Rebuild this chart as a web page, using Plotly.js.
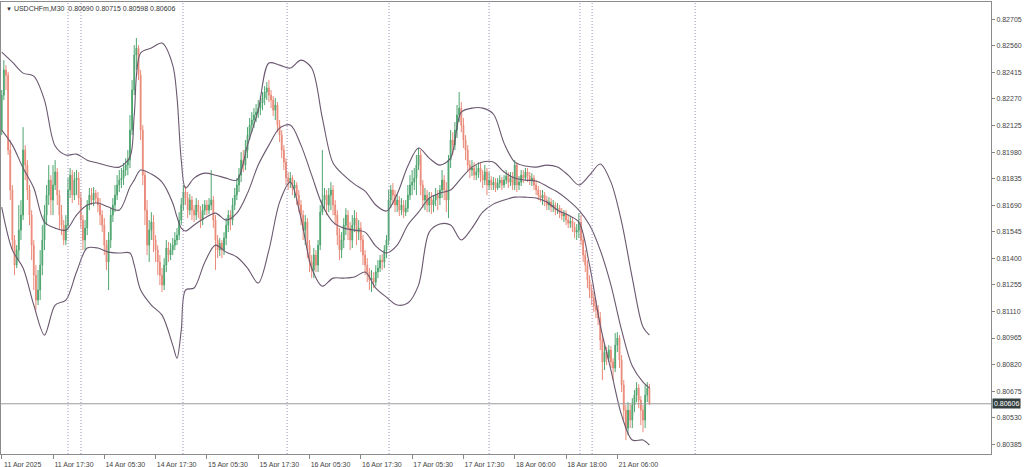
<!DOCTYPE html>
<html>
<head>
<meta charset="utf-8">
<script src="https://cdn.plot.ly/plotly-3.0.1.min.js"></script>
<style>
html,body{margin:0;padding:0;background:#fff;}
#chart{width:1024px;height:467px;}
</style>
</head>
<body>
<div id="chart"></div>
<script>
// ---- Data (USDCHFm, M30) ----
const symbolTitle = "USDCHFm,M30";
const lastOHLC = [0.80690, 0.80715, 0.80598, 0.80606];

const open = [0.82100,0.82291,0.82428,0.82400,0.81991,0.81773,0.81500,0.81363,0.81445,0.81554,
0.81636,0.81991,0.81909,0.81773,0.81636,0.81472,0.81308,0.81172,0.81227,0.81363,
0.81500,0.81636,0.81745,0.81827,0.81718,0.81800,0.81871,0.81745,0.81636,0.81581,
0.81500,0.81581,0.81773,0.81854,0.81745,0.81827,0.81838,0.81729,0.81609,0.81500,
0.81565,0.81691,0.81745,0.81718,0.81756,0.81729,0.81691,0.81636,0.81581,0.81472,
0.81380,0.81500,0.81636,0.81691,0.81745,0.81800,0.81827,0.81838,0.81882,0.81909,
0.81936,0.82100,0.82319,0.82510,0.82548,0.82400,0.82100,0.81854,0.81663,0.81472,
0.81554,0.81598,0.81500,0.81445,0.81380,0.81308,0.81254,0.81363,0.81456,0.81418,
0.81445,0.81472,0.81500,0.81527,0.81609,0.81691,0.81762,0.81729,0.81663,0.81718,
0.81663,0.81636,0.81691,0.81652,0.81609,0.81663,0.81691,0.81663,0.81691,0.81718,
0.81609,0.81500,0.81445,0.81483,0.81445,0.81511,0.81581,0.81636,0.81609,0.81691,
0.81745,0.81800,0.81854,0.81936,0.81909,0.81991,0.82073,0.82127,0.82155,0.82182,
0.82198,0.82220,0.82248,0.82275,0.82308,0.82330,0.82291,0.82264,0.82209,0.82237,
0.82127,0.82073,0.81991,0.81925,0.81838,0.81816,0.81838,0.81784,0.81800,0.81745,
0.81691,0.81636,0.81554,0.81598,0.81472,0.81380,0.81336,0.81418,0.81363,0.81472,
0.81652,0.81718,0.81745,0.81691,0.81745,0.81773,0.81691,0.81636,0.81527,0.81445,
0.81500,0.81581,0.81636,0.81565,0.81500,0.81581,0.81620,0.81543,0.81565,0.81500,
0.81418,0.81363,0.81325,0.81281,0.81292,0.81270,0.81325,0.81347,0.81390,0.81380,
0.81445,0.81500,0.81718,0.81773,0.81745,0.81691,0.81718,0.81663,0.81691,0.81652,
0.81674,0.81745,0.81800,0.81816,0.81838,0.81909,0.81964,0.81800,0.81718,0.81745,
0.81691,0.81729,0.81691,0.81718,0.81745,0.81729,0.81773,0.81827,0.81773,0.81718,
0.81936,0.82046,0.82018,0.82100,0.82182,0.82220,0.82127,0.82046,0.81991,0.81909,
0.81882,0.81893,0.81854,0.81871,0.81893,0.81854,0.81827,0.81871,0.81800,0.81827,
0.81800,0.81816,0.81784,0.81811,0.81827,0.81800,0.81827,0.81849,0.81816,0.81838,
0.81800,0.81909,0.81800,0.81816,0.81854,0.81838,0.81871,0.81849,0.81827,0.81838,
0.81800,0.81773,0.81745,0.81729,0.81745,0.81718,0.81691,0.81707,0.81680,0.81691,
0.81663,0.81674,0.81647,0.81631,0.81642,0.81609,0.81592,0.81603,0.81571,0.81543,
0.81554,0.81598,0.81500,0.81418,0.81363,0.81281,0.81227,0.81183,0.81139,0.81117,
0.81074,0.80954,0.80834,0.80888,0.80855,0.80899,0.80834,0.80801,0.80926,0.80965,
0.80844,0.80708,0.80571,0.80473,0.80571,0.80517,0.80599,0.80653,0.80692,0.80626,
0.80571,0.80517,0.80653,0.80690];

const high = [0.82319,0.82482,0.82455,0.82418,0.82046,0.81800,0.81527,0.81472,0.81691,0.81718,
0.82116,0.82018,0.81936,0.81800,0.81663,0.81500,0.81363,0.81336,0.81445,0.81581,
0.81691,0.81800,0.81909,0.81854,0.81909,0.81936,0.81893,0.81773,0.81691,0.81609,
0.81636,0.81838,0.81893,0.81882,0.81871,0.81882,0.81871,0.81762,0.81636,0.81609,
0.81718,0.81784,0.81784,0.81789,0.81773,0.81762,0.81729,0.81663,0.81620,0.81500,
0.81543,0.81674,0.81729,0.81800,0.81854,0.81882,0.81893,0.81920,0.81947,0.81991,
0.82182,0.82373,0.82564,0.82603,0.82564,0.82428,0.82127,0.81882,0.81718,0.81609,
0.81652,0.81636,0.81527,0.81472,0.81418,0.81347,0.81401,0.81500,0.81489,0.81483,
0.81511,0.81543,0.81565,0.81652,0.81729,0.81800,0.81795,0.81762,0.81751,0.81740,
0.81691,0.81729,0.81718,0.81685,0.81696,0.81718,0.81718,0.81729,0.81882,0.81740,
0.81636,0.81527,0.81511,0.81500,0.81543,0.81620,0.81663,0.81663,0.81729,0.81784,
0.81838,0.81893,0.81980,0.81991,0.82046,0.82116,0.82166,0.82198,0.82220,0.82242,
0.82264,0.82286,0.82308,0.82340,0.82362,0.82373,0.82319,0.82286,0.82275,0.82253,
0.82155,0.82100,0.82018,0.81947,0.81871,0.81871,0.81854,0.81827,0.81816,0.81773,
0.81718,0.81663,0.81636,0.81620,0.81500,0.81418,0.81456,0.81445,0.81500,0.81691,
0.81991,0.81784,0.81773,0.81784,0.81816,0.81800,0.81718,0.81663,0.81565,0.81543,
0.81620,0.81674,0.81663,0.81598,0.81636,0.81663,0.81652,0.81609,0.81598,0.81527,
0.81445,0.81401,0.81347,0.81336,0.81325,0.81363,0.81390,0.81418,0.81423,0.81472,
0.81527,0.81773,0.81800,0.81811,0.81773,0.81751,0.81740,0.81729,0.81718,0.81718,
0.81800,0.81854,0.81882,0.81893,0.81964,0.82002,0.81991,0.81827,0.81784,0.81773,
0.81762,0.81762,0.81745,0.81784,0.81773,0.81800,0.81882,0.81854,0.81816,0.81964,
0.82100,0.82089,0.82144,0.82237,0.82308,0.82253,0.82166,0.82073,0.82018,0.81936,
0.81936,0.81925,0.81909,0.81925,0.81925,0.81882,0.81909,0.81893,0.81871,0.81849,
0.81844,0.81838,0.81838,0.81854,0.81844,0.81854,0.81882,0.81871,0.81871,0.81871,
0.81936,0.81925,0.81849,0.81882,0.81882,0.81893,0.81893,0.81871,0.81865,0.81854,
0.81827,0.81795,0.81773,0.81773,0.81762,0.81740,0.81734,0.81729,0.81718,0.81707,
0.81702,0.81691,0.81674,0.81663,0.81663,0.81636,0.81631,0.81625,0.81598,0.81587,
0.81647,0.81636,0.81527,0.81445,0.81390,0.81308,0.81259,0.81216,0.81172,0.81145,
0.81107,0.80981,0.80926,0.80916,0.80926,0.80921,0.80855,0.80992,0.80997,0.80981,
0.80872,0.80735,0.80599,0.80615,0.80604,0.80637,0.80681,0.80724,0.80713,0.80648,
0.80599,0.80708,0.80724,0.80715];

const low = [0.82073,0.82264,0.82319,0.81964,0.81718,0.81445,0.81308,0.81347,0.81390,0.81500,
0.81609,0.81827,0.81718,0.81581,0.81390,0.81227,0.81117,0.81145,0.81172,0.81308,
0.81445,0.81581,0.81691,0.81636,0.81636,0.81773,0.81691,0.81554,0.81527,0.81472,
0.81472,0.81554,0.81729,0.81702,0.81718,0.81745,0.81691,0.81565,0.81445,0.81445,
0.81527,0.81663,0.81691,0.81685,0.81702,0.81652,0.81581,0.81543,0.81418,0.81336,
0.81227,0.81456,0.81598,0.81652,0.81718,0.81762,0.81784,0.81800,0.81849,0.81854,
0.81893,0.82073,0.82291,0.82428,0.82373,0.82046,0.81800,0.81581,0.81418,0.81380,
0.81500,0.81434,0.81380,0.81308,0.81254,0.81216,0.81227,0.81325,0.81380,0.81390,
0.81418,0.81445,0.81472,0.81500,0.81581,0.81663,0.81691,0.81620,0.81636,0.81609,
0.81598,0.81609,0.81620,0.81565,0.81581,0.81636,0.81636,0.81642,0.81663,0.81565,
0.81336,0.81401,0.81412,0.81401,0.81418,0.81472,0.81543,0.81554,0.81581,0.81663,
0.81718,0.81762,0.81816,0.81871,0.81882,0.81947,0.82046,0.82089,0.82111,0.82144,
0.82166,0.82182,0.82209,0.82237,0.82264,0.82253,0.82220,0.82177,0.82155,0.82089,
0.82035,0.81947,0.81882,0.81800,0.81773,0.81784,0.81745,0.81729,0.81691,0.81652,
0.81581,0.81500,0.81472,0.81401,0.81325,0.81292,0.81292,0.81325,0.81325,0.81445,
0.81636,0.81663,0.81636,0.81652,0.81663,0.81636,0.81581,0.81472,0.81390,0.81401,
0.81456,0.81527,0.81500,0.81445,0.81456,0.81543,0.81472,0.81500,0.81434,0.81363,
0.81308,0.81270,0.81227,0.81216,0.81237,0.81248,0.81292,0.81325,0.81336,0.81347,
0.81401,0.81472,0.81674,0.81691,0.81652,0.81652,0.81631,0.81636,0.81620,0.81631,
0.81652,0.81718,0.81745,0.81773,0.81745,0.81882,0.81745,0.81674,0.81663,0.81652,
0.81652,0.81642,0.81652,0.81685,0.81663,0.81691,0.81729,0.81718,0.81652,0.81620,
0.81893,0.81964,0.81991,0.82057,0.82144,0.82089,0.82002,0.81936,0.81871,0.81838,
0.81849,0.81827,0.81827,0.81838,0.81816,0.81784,0.81800,0.81745,0.81773,0.81773,
0.81773,0.81762,0.81773,0.81784,0.81773,0.81784,0.81805,0.81784,0.81795,0.81773,
0.81773,0.81762,0.81773,0.81795,0.81811,0.81827,0.81816,0.81800,0.81795,0.81773,
0.81745,0.81718,0.81707,0.81691,0.81685,0.81663,0.81663,0.81652,0.81652,0.81636,
0.81642,0.81620,0.81609,0.81598,0.81581,0.81565,0.81565,0.81543,0.81511,0.81500,
0.81511,0.81472,0.81380,0.81325,0.81237,0.81183,0.81145,0.81107,0.81074,0.81035,
0.80899,0.80735,0.80790,0.80817,0.80834,0.80801,0.80735,0.80779,0.80888,0.80801,
0.80670,0.80517,0.80408,0.80435,0.80473,0.80473,0.80560,0.80615,0.80582,0.80489,
0.80451,0.80473,0.80615,0.80598];

const close = [0.82291,0.82428,0.82400,0.81991,0.81773,0.81500,0.81363,0.81445,0.81554,0.81636,
0.81991,0.81909,0.81773,0.81636,0.81472,0.81308,0.81172,0.81227,0.81363,0.81500,
0.81636,0.81745,0.81827,0.81718,0.81800,0.81871,0.81745,0.81636,0.81581,0.81500,
0.81581,0.81773,0.81854,0.81745,0.81827,0.81838,0.81729,0.81609,0.81500,0.81565,
0.81691,0.81745,0.81718,0.81756,0.81729,0.81691,0.81636,0.81581,0.81472,0.81380,
0.81500,0.81636,0.81691,0.81745,0.81800,0.81827,0.81838,0.81882,0.81909,0.81936,
0.82100,0.82319,0.82510,0.82548,0.82400,0.82100,0.81854,0.81663,0.81472,0.81554,
0.81598,0.81500,0.81445,0.81380,0.81308,0.81254,0.81363,0.81456,0.81418,0.81445,
0.81472,0.81500,0.81527,0.81609,0.81691,0.81762,0.81729,0.81663,0.81718,0.81663,
0.81636,0.81691,0.81652,0.81609,0.81663,0.81691,0.81663,0.81691,0.81718,0.81609,
0.81500,0.81445,0.81483,0.81445,0.81511,0.81581,0.81636,0.81609,0.81691,0.81745,
0.81800,0.81854,0.81936,0.81909,0.81991,0.82073,0.82127,0.82155,0.82182,0.82198,
0.82220,0.82248,0.82275,0.82308,0.82330,0.82291,0.82264,0.82209,0.82237,0.82127,
0.82073,0.81991,0.81925,0.81838,0.81816,0.81838,0.81784,0.81800,0.81745,0.81691,
0.81636,0.81554,0.81598,0.81472,0.81380,0.81336,0.81418,0.81363,0.81472,0.81652,
0.81718,0.81745,0.81691,0.81745,0.81773,0.81691,0.81636,0.81527,0.81445,0.81500,
0.81581,0.81636,0.81565,0.81500,0.81581,0.81620,0.81543,0.81565,0.81500,0.81418,
0.81363,0.81325,0.81281,0.81292,0.81270,0.81325,0.81347,0.81390,0.81380,0.81445,
0.81500,0.81718,0.81773,0.81745,0.81691,0.81718,0.81663,0.81691,0.81652,0.81674,
0.81745,0.81800,0.81816,0.81838,0.81909,0.81964,0.81800,0.81718,0.81745,0.81691,
0.81729,0.81691,0.81718,0.81745,0.81729,0.81773,0.81827,0.81773,0.81718,0.81936,
0.82046,0.82018,0.82100,0.82182,0.82220,0.82127,0.82046,0.81991,0.81909,0.81882,
0.81893,0.81854,0.81871,0.81893,0.81854,0.81827,0.81871,0.81800,0.81827,0.81800,
0.81816,0.81784,0.81811,0.81827,0.81800,0.81827,0.81849,0.81816,0.81838,0.81800,
0.81909,0.81800,0.81816,0.81854,0.81838,0.81871,0.81849,0.81827,0.81838,0.81800,
0.81773,0.81745,0.81729,0.81745,0.81718,0.81691,0.81707,0.81680,0.81691,0.81663,
0.81674,0.81647,0.81631,0.81642,0.81609,0.81592,0.81603,0.81571,0.81543,0.81554,
0.81598,0.81500,0.81418,0.81363,0.81281,0.81227,0.81183,0.81139,0.81117,0.81074,
0.80954,0.80834,0.80888,0.80855,0.80899,0.80834,0.80801,0.80926,0.80965,0.80844,
0.80708,0.80571,0.80473,0.80571,0.80517,0.80599,0.80653,0.80692,0.80626,0.80571,
0.80517,0.80653,0.80690,0.80606];

// Bollinger bands at these bar positions
const bandIdx = [0,5,10,15,20,25,30,35,40,45,50,55,60,62,65,70,75,80,82,84,86,
90,95,100,105,110,115,120,125,130,135,140,145,150,155,160,165,170,175,180,185,
190,195,200,205,210,215,220,225,230,235,240,245,250,255,260,265,270,275,280,285,
290,295,300,303];
const bandUpper = [0.82526,0.82471,0.82411,0.82395,0.82264,0.82013,0.81964,0.81969,0.81936,0.81920,0.81904,0.81898,0.81953,0.82182,0.82521,0.82548,0.82575,0.82455,0.82280,0.81936,0.81784,
0.81838,0.81865,0.81854,0.81838,0.81827,0.82018,0.82209,0.82466,0.82455,0.82439,0.82482,0.82439,0.82166,0.81920,0.81854,0.81805,0.81767,0.81691,0.81658,0.81751,
0.81904,0.82002,0.81947,0.81909,0.81947,0.82198,0.82220,0.82220,0.82188,0.82029,0.81925,0.81904,0.81898,0.81909,0.81898,0.81854,0.81800,0.81854,0.81915,0.81816,
0.81598,0.81292,0.81025,0.80981];
const bandMiddle = [0.82100,0.82018,0.81893,0.81784,0.81598,0.81565,0.81554,0.81636,0.81691,0.81702,0.81680,0.81663,0.81789,0.81827,0.81882,0.81860,0.81816,0.81702,0.81625,0.81565,0.81549,
0.81582,0.81620,0.81647,0.81609,0.81647,0.81756,0.81909,0.82018,0.82111,0.82128,0.82018,0.81854,0.81691,0.81598,0.81565,0.81554,0.81543,0.81467,0.81429,0.81472,
0.81582,0.81652,0.81729,0.81756,0.81773,0.81838,0.81898,0.81926,0.81926,0.81871,0.81838,0.81827,0.81822,0.81794,0.81762,0.81718,0.81663,0.81582,0.81445,0.81254,
0.81008,0.80812,0.80724,0.80692];
const bandLower = [0.81680,0.81445,0.81347,0.81145,0.80981,0.81145,0.81172,0.81325,0.81456,0.81456,0.81434,0.81429,0.81429,0.81363,0.81227,0.81145,0.81090,0.80926,0.80855,0.81008,0.81227,
0.81238,0.81379,0.81472,0.81434,0.81407,0.81347,0.81265,0.81445,0.81707,0.81816,0.81620,0.81347,0.81248,0.81292,0.81292,0.81298,0.81325,0.81238,0.81188,0.81145,
0.81156,0.81254,0.81543,0.81587,0.81582,0.81500,0.81565,0.81652,0.81696,0.81718,0.81734,0.81734,0.81729,0.81707,0.81663,0.81636,0.81598,0.81363,0.81035,0.80790,
0.80544,0.80408,0.80408,0.80380];

// Axis ticks
const xTickIdx = [0,24,48,72,96,120,144,168,192,216,240,264,288];
const xTickText = ["11 Apr 2025","11 Apr 17:30","14 Apr 05:30","14 Apr 17:30","15 Apr 05:30",
"15 Apr 17:30","16 Apr 05:30","16 Apr 17:30","17 Apr 05:30","17 Apr 17:30",
"18 Apr 06:00","18 Apr 18:00","21 Apr 06:00"];
const yTickVals = [0.80385,0.80530,0.80675,0.80820,0.80965,0.81110,0.81255,0.81400,0.81545,
0.81690,0.81835,0.81980,0.82125,0.82270,0.82415,0.82560,0.82705];
// vertical dotted markers (bar positions)
const markerIdx = [31.0,37.1,84.8,133.5,181.2,228.0,270.5,276.2,324.4];

// ---- Build ----
const barIdx = close.map((_, i) => i);
const bandColor = "#6a586f";
const FONT = "Liberation Sans, Arial, sans-serif";

const traces = [
  {type:"scatter", mode:"lines", x:bandIdx, y:bandUpper, line:{color:bandColor, width:1.1, shape:"spline", smoothing:0.9}, hoverinfo:"skip"},
  {type:"scatter", mode:"lines", x:bandIdx, y:bandMiddle, line:{color:bandColor, width:1.1, shape:"spline", smoothing:0.9}, hoverinfo:"skip"},
  {type:"scatter", mode:"lines", x:bandIdx, y:bandLower, line:{color:bandColor, width:1.1, shape:"spline", smoothing:0.9}, hoverinfo:"skip"},
  {type:"candlestick", x:barIdx, open:open, high:high, low:low, close:close,
   increasing:{line:{color:"#4da56f", width:1}, fillcolor:"#4da56f"},
   decreasing:{line:{color:"#ea8a79", width:1}, fillcolor:"#ea8a79"},
   whiskerwidth:0, hoverinfo:"skip"}
];

const shapes = markerIdx.map(v => ({type:"line", xref:"x", yref:"paper", x0:v, x1:v, y0:0, y1:1,
  line:{color:"#a093bb", width:1, dash:"1px,2px"}}));
shapes.push({type:"line", xref:"paper", yref:"y", x0:0, x1:1, y0:lastOHLC[3], y1:lastOHLC[3],
  line:{color:"#9a9a9a", width:1}});

const annotations = [
  {xref:"paper", yref:"paper", x:0, y:1, xanchor:"left", yanchor:"top", xshift:3, yshift:-1,
   showarrow:false, align:"left",
   text:"<span style='font-size:6px'>▼</span> " + symbolTitle + "  " + lastOHLC.map(v=>v.toFixed(5)).join(" "),
   font:{family:FONT, size:7, color:"#333"}},
  {xref:"paper", yref:"y", x:1, y:lastOHLC[3], xanchor:"left", yanchor:"middle", xshift:1,
   showarrow:false, text:lastOHLC[3].toFixed(5), bgcolor:"#34403f", borderpad:1,
   font:{family:FONT, size:7, color:"#ffffff"}}
];

const layout = {
  width:1024, height:467,
  margin:{l:1, r:33, t:2, b:13, pad:0},
  paper_bgcolor:"#ffffff", plot_bgcolor:"#ffffff",
  showlegend:false,
  boxgap:0.45,
  xaxis:{range:[-0.33, 462.8], showgrid:false, zeroline:false, rangeslider:{visible:false},
    tickmode:"array", tickvals:xTickIdx, ticktext:xTickText, ticks:"outside", ticklen:4, tickcolor:"#888",
    ticklabelshift:21, ticklabelstandoff:0,
    tickfont:{family:FONT, size:7, color:"#444"},
    showline:true, linecolor:"#8c8c8c", linewidth:1, mirror:true, fixedrange:true},
  yaxis:{range:[0.803318, 0.827994], side:"right", showgrid:false, zeroline:false,
    tickmode:"array", tickvals:yTickVals, tickformat:".5f", ticks:"outside", ticklen:3, tickcolor:"#888",
    tickfont:{family:FONT, size:7, color:"#444"},
    showline:true, linecolor:"#8c8c8c", linewidth:1, mirror:true, fixedrange:true},
  shapes:shapes,
  annotations:annotations
};

Plotly.newPlot("chart", traces, layout, {staticPlot:true, displayModeBar:false});
</script>
</body>
</html>
